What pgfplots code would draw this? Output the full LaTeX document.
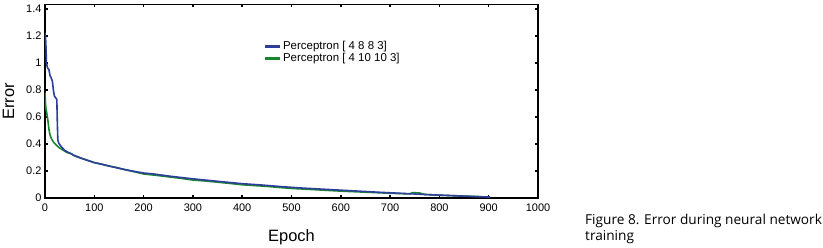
\documentclass[border=0pt]{standalone}
\usepackage{pgfplots}
\pgfplotsset{compat=1.18}
\usepackage{fontspec}
\setmainfont{Liberation Sans}
\newfontfamily\capfont{Open Sans}
\definecolor{cblue}{RGB}{45,62,155}
\definecolor{cgreen}{RGB}{25,135,45}
\begin{document}
\begin{tikzpicture}
\path[use as bounding box, fill=white] (0,0) rectangle (823bp,248bp);
\begin{axis}[
  at={(45bp,50bp)}, anchor=south west,
  scale only axis, width=493bp, height=193.5bp,
  xmin=0, xmax=1000, ymin=0, ymax=1.433,
  xtick={0,100,...,1000}, ytick={0,0.2,...,1.4},
  xticklabels={0,100,200,300,400,500,600,700,800,900,1000},
  yticklabels={0,0.2,0.4,0.6,0.8,1,1.2,1.4},
  tick label style={font=\fontsize{11}{13}\selectfont},
  xticklabel style={yshift=-2bp},
  tick align=inside, major tick length=3bp,
  tick style={black, line width=1.5bp},
  axis line style={line width=1.6bp},
  xlabel={Epoch}, ylabel={Error},
  label style={font=\fontsize{16.5}{19}\selectfont},
  xlabel style={yshift=-11bp},
  ylabel style={yshift=5bp},
  reverse legend,
  legend style={draw=none, fill=none, at={(0.443,0.817)}, anchor=north west,
    font=\fontsize{11.5}{13}\selectfont, inner sep=0pt, row sep=-1bp,
    nodes={inner sep=1.5bp}},
  legend cell align=left,
  legend image code/.code={\draw[line width=3bp] (0bp,0bp) -- (15bp,0bp);},
]
\addplot[cgreen, line width=1.6bp] coordinates {
(0,0.78) (1,0.70) (2,0.66) (4,0.62) (6,0.57) (8,0.51) (10,0.47) (13,0.44) (17,0.415)
(22,0.395) (28,0.375) (35,0.358) (45,0.336) (52,0.33) (60,0.312) (75,0.292) (90,0.275)
(100,0.262) (115,0.25) (130,0.236) (145,0.226) (160,0.212) (180,0.195) (200,0.178)
(225,0.168) (250,0.157) (275,0.146) (300,0.133) (325,0.126) (350,0.117) (375,0.108)
(400,0.098) (425,0.092) (450,0.086) (475,0.078) (500,0.071) (525,0.066) (550,0.061)
(575,0.056) (600,0.051) (625,0.047) (650,0.043) (675,0.039) (700,0.035) (725,0.032)
(740,0.030) (745,0.040) (760,0.037) (770,0.026) (800,0.021) (830,0.017) (860,0.013) (880,0.011)
};
\addlegendentry{Perceptron [ 4 10 10 3]}
\addplot[cblue, line width=1.6bp] coordinates {
(0,1.22) (1,1.20) (2,1.12) (3,1.0) (5,0.965) (8,0.95) (10,0.91) (13,0.885) (15,0.865)
(17,0.80) (19,0.755) (22,0.74) (24,0.73) (25,0.56) (26,0.43) (28,0.405) (32,0.385)
(40,0.352) (50,0.333) (60,0.314) (75,0.293) (90,0.274) (100,0.262) (120,0.246)
(140,0.228) (160,0.212) (180,0.198) (200,0.185) (220,0.178) (250,0.163) (280,0.150)
(300,0.142) (330,0.131) (360,0.120) (400,0.106) (440,0.096) (480,0.084) (520,0.074)
(560,0.066) (600,0.058) (640,0.050) (680,0.042) (720,0.035) (760,0.028) (800,0.021)
(840,0.015) (870,0.011) (903,0.007)
};
\addlegendentry{Perceptron [ 4 8 8 3]}
\end{axis}
\node[anchor=north west, align=left, inner sep=0pt, font=\capfont\fontsize{13.7}{16}\selectfont]
  at (585bp,34bp) {Figure 8. Error during neural network\\training};
\end{tikzpicture}
\end{document}
